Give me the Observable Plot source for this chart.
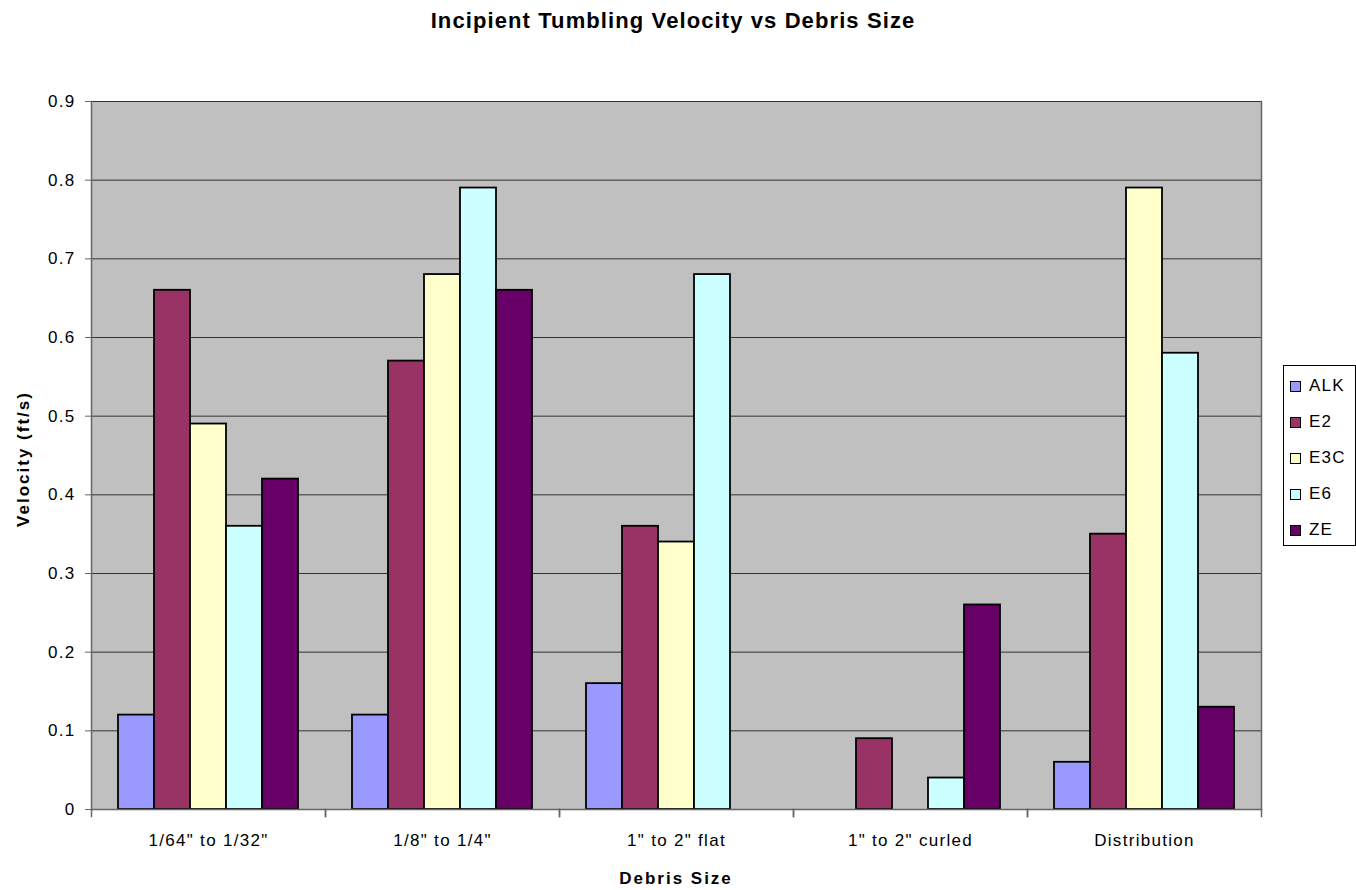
<!DOCTYPE html>
<html>
<head>
<meta charset="utf-8">
<script src="https://cdn.jsdelivr.net/npm/d3@7"></script>
<script src="https://cdn.jsdelivr.net/npm/@observablehq/plot@0.6"></script>
<style>
  html, body { margin: 0; padding: 0; background: #fff; }
  body { font-family: "Liberation Sans", Arial, sans-serif; color: #000; }
  #wrap { position: relative; width: 1356px; height: 890px; }
  #title { position: absolute; left: 0; top: 7px; width: 1346px; text-align: center;
           font-weight: bold; font-size: 22px; letter-spacing: 1.1px; line-height: 28px; }
  #xlabel { position: absolute; left: 90px; width: 1172px; top: 868px; text-align: center;
            font-weight: bold; font-size: 17px; letter-spacing: 2px; line-height: 22px; }
  #ylabel { position: absolute; left: 24px; top: 459px; font-weight: bold; font-size: 17px; letter-spacing: 2px;
            transform: translate(-50%, -50%) rotate(-90deg); white-space: nowrap; line-height: 22px; }
  #legend { position: absolute; left: 1283px; top: 365px; width: 73px; height: 181px;
            border: 1px solid #000; box-sizing: border-box; background: #fff; padding-top: 2px; }
  .item { display: flex; align-items: center; height: 36px; font-size: 17px; letter-spacing: 1.2px; padding-left: 6px; }
  .sw { width: 9px; height: 9px; border: 1px solid #000; margin-right: 8px; }
  #chart { position: absolute; left: 0; top: 0; }
  #chart svg text { letter-spacing: 1.3px; }
</style>
</head>
<body>
<div id="wrap">
  <div id="chart"></div>
  <div id="title">Incipient Tumbling Velocity vs Debris Size</div>
  <div id="ylabel">Velocity (ft/s)</div>
  <div id="xlabel">Debris Size</div>
  <div id="legend"></div>
</div>
<script>
// Debris size classes and the test series
const categories = ['1/64" to 1/32"', '1/8" to 1/4"', '1" to 2" flat', '1" to 2" curled', 'Distribution'];
const seriesNames = ["ALK", "E2", "E3C", "E6", "ZE"];
const seriesColors = ["#9999FF", "#993366", "#FFFFCC", "#CCFFFF", "#660066"];

// Incipient tumbling velocity (ft/s) per series, one value per debris size (null = no bar)
const ALK = [0.12, 0.12, 0.16, null, 0.06];
const E2  = [0.66, 0.57, 0.36, 0.09, 0.35];
const E3C = [0.49, 0.68, 0.34, null, 0.79];
const E6  = [0.36, 0.79, 0.68, 0.04, 0.58];
const ZE  = [0.42, 0.66, null, 0.26, 0.13];

const yTicks = [0, 0.1, 0.2, 0.3, 0.4, 0.5, 0.6, 0.7, 0.8, 0.9];

const seriesValues = {ALK, E2, E3C, E6, ZE};
const rows = [];
seriesNames.forEach(s => {
  seriesValues[s].forEach((v, i) => {
    if (v != null) rows.push({category: categories[i], series: s, value: v});
  });
});

const axisColor = "#666";
const fmt = d3.format(".1f");

const chart = Plot.plot({
  width: 1356,
  height: 890,
  marginTop: 101,
  marginBottom: 81,
  marginLeft: 90,
  marginRight: 94,
  style: {fontFamily: '"Liberation Sans", Arial, sans-serif', fontSize: "17px", color: "#000", background: "transparent"},
  fx: {domain: categories, padding: 0},
  x: {domain: seriesNames, paddingInner: 0, paddingOuter: 0.75, axis: null},
  y: {domain: [0, 0.9]},
  color: {domain: seriesNames, range: seriesColors},
  marks: [
    // plot area background (stroked in the same grey to hide seams between facets)
    Plot.frame({fill: "#C0C0C0", stroke: "#C0C0C0", strokeWidth: 1}),
    // horizontal gridlines
    Plot.ruleY(yTicks, {stroke: "#333", strokeWidth: 1}),
    // outer left and right borders of the plot area
    Plot.frame({anchor: "left", stroke: axisColor, strokeWidth: 1.5, fx: () => categories[0]}),
    Plot.frame({anchor: "right", stroke: axisColor, strokeWidth: 1.5, fx: () => categories[categories.length - 1]}),
    // category boundary tick marks below the baseline
    Plot.frame({anchor: "left", stroke: axisColor, strokeWidth: 1.5, insetTop: 708, insetBottom: -7}),
    Plot.frame({anchor: "right", stroke: axisColor, strokeWidth: 1.5, insetTop: 708, insetBottom: -7}),
    // bars
    Plot.barY(rows, {fx: "category", x: "series", y: "value", fill: "series", stroke: "#000", strokeWidth: 1.8}),
    Plot.ruleY([0], {stroke: axisColor, strokeWidth: 1.5}),
    Plot.axisY({ticks: yTicks, tickSize: 6, tickPadding: 10, stroke: axisColor, label: null,
                fontSize: 17, tickFormat: d => d === 0 ? "0" : fmt(d)}),
    Plot.axisFx({anchor: "bottom", tickSize: 0, tickPadding: 24, label: null, fontSize: 17})
  ]
});
document.getElementById("chart").appendChild(chart);

// legend
const legend = document.getElementById("legend");
seriesNames.forEach((s, i) => {
  const item = document.createElement("div");
  item.className = "item";
  const sw = document.createElement("div");
  sw.className = "sw";
  sw.style.background = seriesColors[i];
  const t = document.createElement("span");
  t.textContent = s;
  item.appendChild(sw);
  item.appendChild(t);
  legend.appendChild(item);
});
</script>
</body>
</html>
